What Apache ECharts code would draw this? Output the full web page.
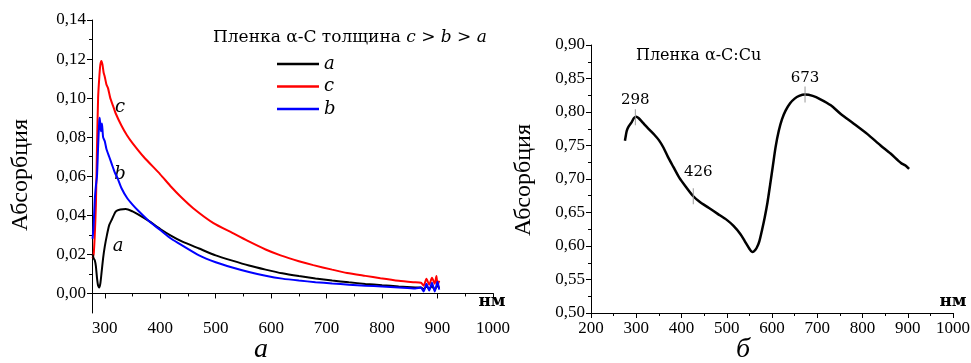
<!DOCTYPE html>
<html><head><meta charset="utf-8">
<script src="https://cdn.jsdelivr.net/npm/echarts@6/dist/echarts.min.js"></script>
<style>html,body{margin:0;padding:0;background:#fff}#c{width:971px;height:363px}</style>
</head><body><div id="c"></div>
<script>
// ---- Left chart (а): α-C films, thickness c > b > a ----
const aX=[278,280,282,284,286,288,290,292,294,297,300,304,308,313,320,328,338,350,360,380,400,420,440,470,500,530,560,590,620,650,680,710,740,770,800,830,860,870,875,880,885,890,895,900,903];
const aY=[0.020,0.018,0.017,0.014,0.008,0.004,0.003,0.005,0.010,0.018,0.024,0.030,0.035,0.038,0.042,0.043,0.0432,0.042,0.0405,0.037,0.033,0.0295,0.0265,0.023,0.0195,0.0168,0.0143,0.0122,0.0103,0.0089,0.0077,0.0066,0.0057,0.0049,0.0042,0.0036,0.0031,0.0030,0.0022,0.0036,0.0024,0.0038,0.0020,0.0040,0.0028];
const cX=[278,280,282,284,286,288,290,292,294,296,298,300,303,306,310,315,320,330,340,350,370,400,420,437,460,496,530,557,590,617,650,676,710,737,770,797,830,856,870,875,880,885,890,895,898,900,903];
const cY=[0.018,0.020,0.030,0.045,0.075,0.100,0.110,0.117,0.119,0.117,0.113,0.111,0.107,0.105,0.100,0.096,0.092,0.086,0.081,0.077,0.070,0.061,0.0545,0.0495,0.0435,0.036,0.031,0.027,0.0225,0.0195,0.0165,0.0145,0.0122,0.0105,0.0090,0.0078,0.0065,0.0058,0.0055,0.0040,0.0075,0.0045,0.0080,0.0050,0.0090,0.0040,0.0065];
const bX=[278,280,282,284,286,288,290,291,293,295,297,300,303,308,313,318,323,330,340,350,360,380,400,420,440,470,500,530,560,590,620,650,680,710,740,770,800,830,860,870,875,880,885,890,895,900,903];
const bY=[0.028,0.035,0.048,0.055,0.060,0.075,0.088,0.090,0.083,0.087,0.080,0.078,0.074,0.070,0.066,0.062,0.059,0.054,0.049,0.0455,0.0425,0.037,0.0325,0.028,0.0245,0.0195,0.016,0.0133,0.011,0.0091,0.0076,0.0066,0.0058,0.0051,0.0045,0.0040,0.0036,0.0031,0.0026,0.0030,0.0010,0.0050,0.0015,0.0055,0.0010,0.0060,0.0020];
const leftXLabels=[300,400,500,600,700,800,900,1000];
const leftXMinor=[300,350,400,450,500,550,600,650,700,750,800,850,900,950,1000];
const leftYLabels=[0,0.02,0.04,0.06,0.08,0.10,0.12,0.14];
const leftYMinor=[0.01,0.03,0.05,0.07,0.09,0.11,0.13];
const seriesNames=['a','c','b'];

// ---- Right chart (б): α-C:Cu film ----
const cuX=[275,277,279,283,290,295,300,305,312,320,330,340,350,360,370,382,395,410,425,440,460,480,500,515,530,540,550,556,560,566,572,578,584,590,596,602,608,615,622,630,640,650,660,673,690,707,730,752,780,811,840,862,885,895,903];
const cuY=[0.757,0.765,0.772,0.778,0.785,0.791,0.793,0.791,0.786,0.780,0.773,0.766,0.758,0.747,0.733,0.718,0.702,0.688,0.675,0.666,0.657,0.648,0.639,0.630,0.618,0.607,0.596,0.591,0.592,0.597,0.607,0.624,0.643,0.665,0.692,0.720,0.748,0.772,0.789,0.802,0.813,0.820,0.824,0.826,0.824,0.819,0.810,0.797,0.783,0.767,0.750,0.738,0.724,0.720,0.715];
const peaks=[298,426,673];

const zip=(xs,ys)=>xs.map((x,i)=>[x,ys[i]]);
const fmt=v=>Number(v).toFixed(2).replace('.',',');
const fmtX=v=>String(Math.round(v));
function valueAt(x){for(let i=1;i<cuX.length;i++){if(cuX[i]>=x){const t=(x-cuX[i-1])/(cuX[i]-cuX[i-1]);return cuY[i-1]+t*(cuY[i]-cuY[i-1]);}}return cuY[cuY.length-1];}

const SERIF='"Liberation Serif", "Times New Roman", serif';
const SERIF2='"DejaVu Serif", serif';
const lblStyle={color:'#000',fontFamily:SERIF,fontSize:17};
const axLine={show:true,lineStyle:{color:'#000',width:1}};

const chart=echarts.init(document.getElementById('c'),null,{renderer:'canvas'});
const peakLabelOpts=[{distance:2},{distance:9,offset:[5,0]},{distance:1}];
chart.setOption({
  animation:false,
  backgroundColor:'#fff',
  grid:[
    {left:92,right:478,top:20,bottom:50,containLabel:false,outerBoundsMode:'none'},
    {left:591,right:18,top:45,bottom:50,containLabel:false,outerBoundsMode:'none'}
  ],
  legend:{
    data:seriesNames,orient:'vertical',left:272,top:50,icon:'rect',itemWidth:42,itemHeight:2.5,itemGap:4.5,
    textStyle:{fontFamily:SERIF2,fontStyle:'italic',fontSize:18,lineHeight:18,color:'#000'}
  },
  xAxis:[
    {type:'value',gridIndex:0,position:'bottom',min:277,max:1000,axisLine:axLine,
      axisTick:{show:true,customValues:leftXLabels,length:5,lineStyle:{color:'#000'}},
      axisLabel:{show:true,customValues:leftXLabels,formatter:fmtX,...lblStyle,margin:7},splitLine:{show:false}},
    {type:'value',gridIndex:0,position:'bottom',min:277,max:1000,axisLine:{show:false},
      axisTick:{show:true,customValues:leftXMinor,length:3,lineStyle:{color:'#000'}},
      axisLabel:{show:false},splitLine:{show:false}},
    {type:'value',gridIndex:1,position:'bottom',min:200,max:1000,interval:100,axisLine:axLine,
      axisTick:{show:true,length:5,lineStyle:{color:'#000'}},
      minorTick:{show:true,splitNumber:2,length:3,lineStyle:{color:'#000'}},
      axisLabel:{formatter:fmtX,...lblStyle,margin:7},splitLine:{show:false}}
  ],
  yAxis:[
    {type:'value',gridIndex:0,position:'left',min:-0.01,max:0.14,axisLine:axLine,
      axisTick:{show:true,customValues:leftYLabels,length:5,lineStyle:{color:'#000'}},
      axisLabel:{show:true,customValues:leftYLabels,formatter:fmt,...lblStyle,margin:6},splitLine:{show:false}},
    {type:'value',gridIndex:0,position:'left',min:-0.01,max:0.14,axisLine:{show:false},
      axisTick:{show:true,customValues:leftYMinor,length:3,lineStyle:{color:'#000'}},
      axisLabel:{show:false},splitLine:{show:false}},
    {type:'value',gridIndex:1,position:'left',min:0.5,max:0.9,interval:0.05,axisLine:axLine,
      axisTick:{show:true,length:5,lineStyle:{color:'#000'}},
      minorTick:{show:true,splitNumber:2,length:3,lineStyle:{color:'#000'}},
      axisLabel:{formatter:fmt,...lblStyle,margin:6},splitLine:{show:false}}
  ],
  series:[
    {name:'c',type:'line',xAxisIndex:0,yAxisIndex:0,data:zip(cX,cY),showSymbol:false,smooth:0.2,
      lineStyle:{color:'#ff0000',width:2},itemStyle:{color:'#ff0000'}},
    {name:'a',type:'line',xAxisIndex:0,yAxisIndex:0,data:zip(aX,aY),showSymbol:false,smooth:0.2,
      lineStyle:{color:'#000',width:2},itemStyle:{color:'#000'}},
    {name:'b',type:'line',xAxisIndex:0,yAxisIndex:0,data:zip(bX,bY),showSymbol:false,smooth:0.2,
      lineStyle:{color:'#0000ff',width:2},itemStyle:{color:'#0000ff'}},
    {name:'Cu',type:'line',xAxisIndex:2,yAxisIndex:2,data:zip(cuX,cuY),showSymbol:false,smooth:0.25,
      lineStyle:{color:'#000',width:2.5},itemStyle:{color:'#000'},
      markPoint:{symbol:'rect',symbolSize:[1,16],silent:true,itemStyle:{color:'#999'},
        label:{show:true,position:'top',formatter:'{b}',color:'#000',fontFamily:SERIF2,fontSize:15},
        data:peaks.map((p,i)=>({name:String(p),coord:[p,valueAt(p)],label:peakLabelOpts[i]}))}}
  ],
  graphic:[
    {type:'text',x:21,y:175,rotation:Math.PI/2,style:{text:'Абсорбция',fontFamily:SERIF,fontSize:24,fill:'#000',align:'center',verticalAlign:'middle'}},
    {type:'text',x:524,y:180,rotation:Math.PI/2,style:{text:'Абсорбция',fontFamily:SERIF,fontSize:24,fill:'#000',align:'center',verticalAlign:'middle'}},
    {type:'text',x:492,y:302,style:{text:'нм',fontFamily:SERIF2,fontWeight:'bold',fontSize:17,fill:'#000',align:'center',verticalAlign:'middle'}},
    {type:'text',x:953,y:302,style:{text:'нм',fontFamily:SERIF2,fontWeight:'bold',fontSize:17,fill:'#000',align:'center',verticalAlign:'middle'}},
    {type:'text',x:261,y:350,style:{text:'а',fontFamily:SERIF,fontStyle:'italic',fontSize:28,fill:'#000',align:'center',verticalAlign:'middle'}},
    {type:'text',x:743,y:350,style:{text:'б',fontFamily:SERIF,fontStyle:'italic',fontSize:28,fill:'#000',align:'center',verticalAlign:'middle'}},
    {type:'text',x:213,y:38,style:{text:'{n|Пленка α-C толщина }{i|c}{n| > }{i|b}{n| > }{i|a}',verticalAlign:'middle',
      rich:{n:{fontFamily:SERIF2,fontSize:17,fill:'#000'},i:{fontFamily:SERIF2,fontStyle:'italic',fontSize:17,fill:'#000'}}}},
    {type:'text',x:636,y:56,style:{text:'Пленка α-C:Cu',fontFamily:SERIF2,fontSize:16,fill:'#000',verticalAlign:'middle'}},
    {type:'text',x:120,y:107,style:{text:'c',fontFamily:SERIF2,fontStyle:'italic',fontSize:18,fill:'#000',align:'center',verticalAlign:'middle'}},
    {type:'text',x:120,y:174,style:{text:'b',fontFamily:SERIF2,fontStyle:'italic',fontSize:18,fill:'#000',align:'center',verticalAlign:'middle'}},
    {type:'text',x:118,y:246,style:{text:'a',fontFamily:SERIF2,fontStyle:'italic',fontSize:18,fill:'#000',align:'center',verticalAlign:'middle'}}
  ]
});
</script></body></html>
